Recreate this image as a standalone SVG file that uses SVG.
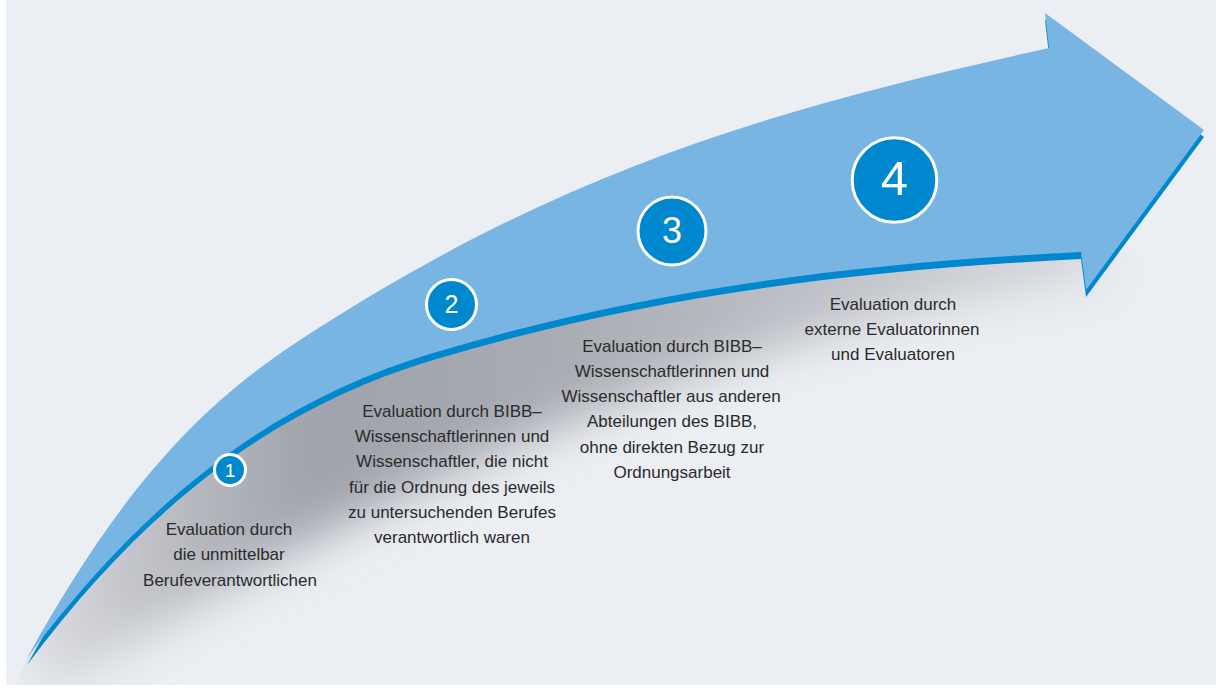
<svg xmlns="http://www.w3.org/2000/svg" width="1216" height="691" viewBox="0 0 1216 691">
<defs>
<style>
.lbl{font-family:"Liberation Sans",Arial,sans-serif;font-size:17px;fill:#2b2b2b;text-anchor:middle}
.num{font-family:"Liberation Sans",Arial,sans-serif;fill:#ffffff;text-anchor:middle}
.badge{fill:#0088cf;stroke:#ffffff;stroke-width:3}
</style>
<path id="arrowShape" d="M27,658 C114.5,500.7 191,410.9 300,340 C550,177.5 749,114 1049,48 L1045,13 L1204,130 L1086,290 L1081,252 C831,264.5 633,293 433,353 C273,401 147,498 27,658 Z"/>
<linearGradient id="shadowGrad" gradientUnits="userSpaceOnUse" x1="0" y1="0" x2="1100" y2="0">
<stop offset="0" stop-color="#e4e6ea"/>
<stop offset="0.12" stop-color="#c2c4c9"/>
<stop offset="0.28" stop-color="#a0a3ab"/>
<stop offset="0.5" stop-color="#a8abb2"/>
<stop offset="1" stop-color="#d6d8dd"/>
</linearGradient>
<filter id="blur" filterUnits="userSpaceOnUse" x="-100" y="-100" width="1450" height="950">
<feGaussianBlur stdDeviation="24"/>
</filter>
<clipPath id="belowArrow">
<path d="M27,658 C147,498 273,401 433,353 C633,293 831,264.5 1081,252 L1216,252 L1216,685 L16,685 Z"/>
</clipPath>
</defs>
<rect x="0" y="0" width="1216" height="691" fill="#ffffff"/>
<rect x="6" y="0" width="1210" height="685" fill="#ebeef2"/>
<g id="shadow" clip-path="url(#belowArrow)">
<path d="M10,600 C130,420 270,330 433,300 C633,250 831,220 1090,210 L1105,280 C760,315 340,500 40,700 Z" fill="url(#shadowGrad)" filter="url(#blur)"/>
</g>
<g id="arrow">
<use href="#arrowShape" transform="translate(0,7)" fill="#0088cf"/>
<use href="#arrowShape" fill="#78b5e3"/>
</g>
<g id="step1">
<circle class="badge" cx="230" cy="470" r="15.5" stroke-width="2.5"/>
<text class="num" x="230" y="477" font-size="19">1</text>
<text class="lbl" x="229" y="535">Evaluation durch</text>
<text class="lbl" x="229" y="560">die unmittelbar</text>
<text class="lbl" x="230" y="586">Berufeverantwortlichen</text>
</g>
<g id="step2">
<circle class="badge" cx="451.5" cy="304.5" r="25"/>
<text class="num" x="451.5" y="313" font-size="25">2</text>
<text class="lbl" x="452" y="417">Evaluation durch BIBB–</text>
<text class="lbl" x="452" y="442">Wissenschaftlerinnen und</text>
<text class="lbl" x="452" y="467">Wissenschaftler, die nicht</text>
<text class="lbl" x="452" y="493">für die Ordnung des jeweils</text>
<text class="lbl" x="452" y="518">zu untersuchenden Berufes</text>
<text class="lbl" x="452" y="543">verantwortlich waren</text>
</g>
<g id="step3">
<circle class="badge" cx="672" cy="231" r="34"/>
<text class="num" x="672" y="243" font-size="36">3</text>
<text class="lbl" x="672" y="352">Evaluation durch BIBB–</text>
<text class="lbl" x="672" y="377">Wissenschaftlerinnen und</text>
<text class="lbl" x="671" y="402">Wissenschaftler aus anderen</text>
<text class="lbl" x="672" y="427">Abteilungen des BIBB,</text>
<text class="lbl" x="672" y="453">ohne direkten Bezug zur</text>
<text class="lbl" x="672" y="478">Ordnungsarbeit</text>
</g>
<g id="step4">
<circle class="badge" cx="894.5" cy="180" r="42.3" stroke-width="3.4"/>
<text class="num" x="894.5" y="195" font-size="49">4</text>
<text class="lbl" x="893" y="310">Evaluation durch</text>
<text class="lbl" x="892" y="335">externe Evaluatorinnen</text>
<text class="lbl" x="893" y="360">und Evaluatoren</text>
</g>
</svg>
